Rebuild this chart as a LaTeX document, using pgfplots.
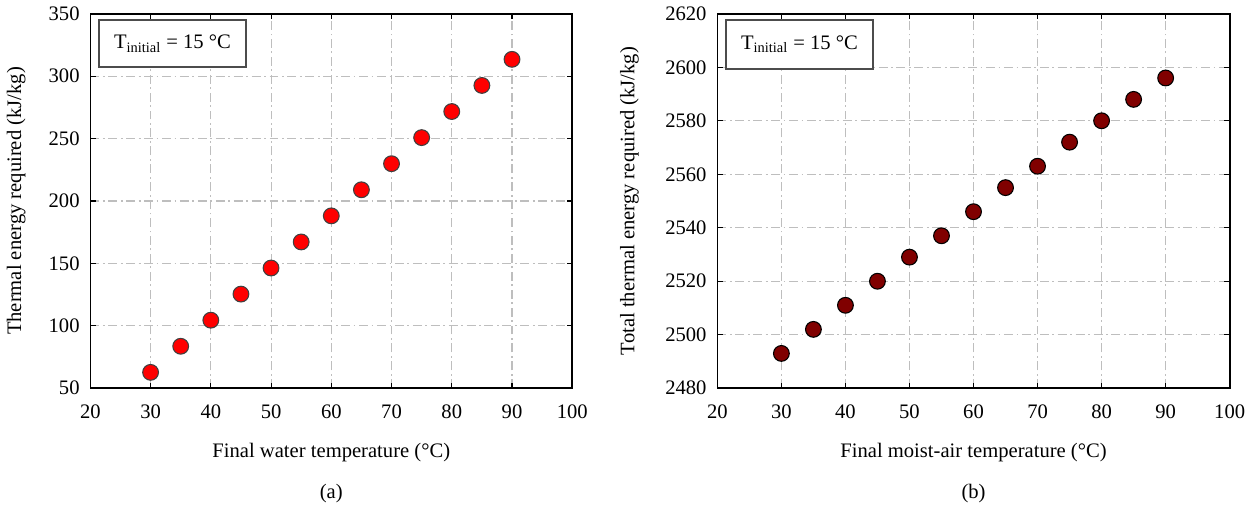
\documentclass[border=0pt]{standalone}
\usepackage{fontspec}
\setmainfont{Liberation Serif}
\usepackage{pgfplots}
\pgfplotsset{compat=1.18}
\definecolor{gridgray}{RGB}{190,190,190}
\definecolor{dred}{RGB}{128,0,0}
\begin{document}
\fontsize{11.5}{13}\selectfont
\begin{tikzpicture}
\pgfplotsset{
  every axis/.append style={
    scale only axis,
    font=\fontsize{11.5}{13}\selectfont,
    /pgf/number format/assume math mode=true,
    axis line style={black, line width=0.9pt},
    grid=major,
    major grid style={gridgray, line width=0.6pt, dash pattern=on 5pt off 2pt on 1pt off 2pt},
    tick style={black, line width=0.6pt},
    tick align=inside,
    major tick length=3pt,
    xmin=20, xmax=100,
    xtick={20,30,...,100},
    xticklabel style={yshift=-5pt},
    xlabel style={yshift=-6pt},
    yticklabel style={xshift=-2pt},
    clip=false,
  },
}
\begin{axis}[
  at={(0pt,0pt)},
  width=269pt, height=209pt,
  ymin=50, ymax=350,
  ytick={50,100,...,350},
  xlabel={Final water temperature (°C)},
  ylabel={Thermal energy required (kJ/kg)},
  ylabel style={yshift=5pt},
]
\addplot[only marks, mark=*, mark size=4.4pt, mark options={fill=red, draw=black!75, line width=0.6pt}]
coordinates {
(30,62.7)(35,83.6)(40,104.5)(45,125.4)(50,146.3)(55,167.2)(60,188.1)(65,209.0)(70,229.9)(75,250.8)(80,271.7)(85,292.6)(90,313.5)
};
\node[draw=black!70, line width=1.1pt, fill=white, anchor=north west, inner sep=5pt, minimum height=26pt, minimum width=82pt] at (rel axis cs:0.016,0.985) {T\textsubscript{initial} = 15 °C};
\node[anchor=center] at ([yshift=-59pt]rel axis cs:0.5,0) {(a)};
\end{axis}
\begin{axis}[
  at={(350pt,0pt)},
  width=286pt, height=209pt,
  ymin=2480, ymax=2620,
  ytick={2480,2500,...,2620},
  yticklabel style={/pgf/number format/1000 sep={}},
  xlabel={Final moist-air temperature (°C)},
  ylabel={Total thermal energy required (kJ/kg)},
  ylabel style={yshift=7pt},
]
\addplot[only marks, mark=*, mark size=4.4pt, mark options={fill=dred, draw=black, line width=0.6pt}]
coordinates {
(30,2493)(35,2502)(40,2511)(45,2520)(50,2529)(55,2537)(60,2546)(65,2555)(70,2563)(75,2572)(80,2580)(85,2588)(90,2596)
};
\node[draw=black!70, line width=1.1pt, fill=white, anchor=north west, inner sep=5pt, minimum height=27pt, minimum width=82pt] at (rel axis cs:0.015,0.985) {T\textsubscript{initial} = 15 °C};
\node[anchor=center] at ([yshift=-59pt]rel axis cs:0.5,0) {(b)};
\end{axis}
\end{tikzpicture}
\end{document}
